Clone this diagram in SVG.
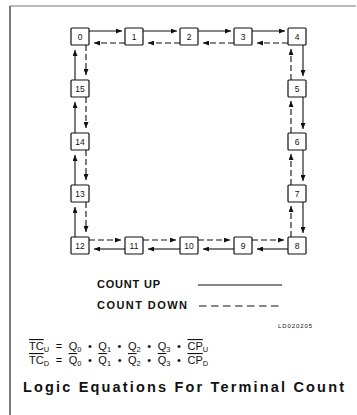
<svg xmlns="http://www.w3.org/2000/svg" width="357" height="415" viewBox="0 0 357 415">
<style>
.nd{fill:#fff;stroke:#111;stroke-width:1.2}
.lb{font-family:"Liberation Sans",Arial,sans-serif;font-size:8.5px;fill:#111;text-anchor:middle}
.s{stroke:#111;stroke-width:1.1;fill:none}
.d{stroke:#111;stroke-width:1.1;fill:none;stroke-dasharray:6 3}
.t{font-family:"Liberation Sans",Arial,sans-serif;fill:#111}
.sb{font-size:7.5px}
</style>
<defs>
<marker id="ah" markerUnits="userSpaceOnUse" markerWidth="6" markerHeight="5" refX="6" refY="2.5" orient="auto">
<path d="M0,0 L6,2.5 L0,5 z" fill="#111"/>
</marker>
</defs>
<rect width="357" height="415" fill="#fff"/>
<g id="frame">
<line x1="10" y1="6" x2="356" y2="6" stroke="#777" stroke-width="1"/>
<line x1="10" y1="6" x2="10" y2="415" stroke="#333" stroke-width="1.3"/>
</g>
<g id="connectors">
<g class="s" marker-end="url(#ah)">
<line x1="89" y1="31" x2="122" y2="31"/>
<line x1="143" y1="31" x2="177" y2="31"/>
<line x1="198" y1="31" x2="231" y2="31"/>
<line x1="252" y1="31" x2="285" y2="31"/>
<line x1="303" y1="45" x2="303" y2="76"/>
<line x1="303" y1="97" x2="303" y2="129"/>
<line x1="303" y1="150" x2="303" y2="181"/>
<line x1="303" y1="202" x2="303" y2="233"/>
<line x1="288" y1="249" x2="257" y2="249"/>
<line x1="234" y1="249" x2="203" y2="249"/>
<line x1="180" y1="249" x2="148" y2="249"/>
<line x1="125" y1="249" x2="94" y2="249"/>
<line x1="75" y1="237" x2="75" y2="207"/>
<line x1="75" y1="185" x2="75" y2="155"/>
<line x1="75" y1="133" x2="75" y2="102"/>
<line x1="75" y1="80" x2="75" y2="50"/>
</g>
<g class="d" marker-end="url(#ah)">
<line x1="125" y1="43" x2="94" y2="43"/>
<line x1="180" y1="43" x2="148" y2="43"/>
<line x1="234" y1="43" x2="203" y2="43"/>
<line x1="288" y1="43" x2="257" y2="43"/>
<line x1="291" y1="80" x2="291" y2="49"/>
<line x1="291" y1="133" x2="291" y2="101"/>
<line x1="291" y1="185" x2="291" y2="154"/>
<line x1="291" y1="237" x2="291" y2="206"/>
<line x1="89" y1="240" x2="121" y2="240"/>
<line x1="143" y1="240" x2="176" y2="240"/>
<line x1="198" y1="240" x2="230" y2="240"/>
<line x1="252" y1="240" x2="284" y2="240"/>
<line x1="86" y1="45" x2="86" y2="75"/>
<line x1="86" y1="97" x2="86" y2="128"/>
<line x1="86" y1="150" x2="86" y2="180"/>
<line x1="86" y1="202" x2="86" y2="232"/>
</g>
</g>
<g id="n0"><rect class="nd" x="71" y="28" width="18" height="17" rx="1"/><text class="lb" x="80" y="39.5">0</text></g>
<g id="n1"><rect class="nd" x="125" y="28" width="18" height="17" rx="1"/><text class="lb" x="134" y="39.5">1</text></g>
<g id="n2"><rect class="nd" x="180" y="28" width="18" height="17" rx="1"/><text class="lb" x="189" y="39.5">2</text></g>
<g id="n3"><rect class="nd" x="234" y="28" width="18" height="17" rx="1"/><text class="lb" x="243" y="39.5">3</text></g>
<g id="n4"><rect class="nd" x="288" y="28" width="18" height="17" rx="1"/><text class="lb" x="297" y="39.5">4</text></g>
<g id="n5"><rect class="nd" x="288" y="80" width="18" height="17" rx="1"/><text class="lb" x="297" y="91.5">5</text></g>
<g id="n6"><rect class="nd" x="288" y="133" width="18" height="17" rx="1"/><text class="lb" x="297" y="144.5">6</text></g>
<g id="n7"><rect class="nd" x="288" y="185" width="18" height="17" rx="1"/><text class="lb" x="297" y="196.5">7</text></g>
<g id="n8"><rect class="nd" x="288" y="237" width="18" height="17" rx="1"/><text class="lb" x="297" y="248.5">8</text></g>
<g id="n9"><rect class="nd" x="234" y="237" width="18" height="17" rx="1"/><text class="lb" x="243" y="248.5">9</text></g>
<g id="n10"><rect class="nd" x="180" y="237" width="18" height="17" rx="1"/><text class="lb" x="189" y="248.5">10</text></g>
<g id="n11"><rect class="nd" x="125" y="237" width="18" height="17" rx="1"/><text class="lb" x="134" y="248.5">11</text></g>
<g id="n12"><rect class="nd" x="71" y="237" width="18" height="17" rx="1"/><text class="lb" x="80" y="248.5">12</text></g>
<g id="n13"><rect class="nd" x="71" y="185" width="18" height="17" rx="1"/><text class="lb" x="80" y="196.5">13</text></g>
<g id="n14"><rect class="nd" x="71" y="133" width="18" height="17" rx="1"/><text class="lb" x="80" y="144.5">14</text></g>
<g id="n15"><rect class="nd" x="71" y="80" width="18" height="17" rx="1"/><text class="lb" x="80" y="91.5">15</text></g>
<g id="legend">
<text class="t" x="97" y="288" font-size="11" font-weight="bold" textLength="63" lengthAdjust="spacing">COUNT UP</text>
<text class="t" x="97" y="309" font-size="11" font-weight="bold" textLength="90" lengthAdjust="spacing">COUNT DOWN</text>
<line x1="198" y1="285" x2="282" y2="285" stroke="#111" stroke-width="1.2"/>
<line x1="199" y1="306" x2="282" y2="306" stroke="#111" stroke-width="1.2" stroke-dasharray="7.5 4.5"/>
<text class="t" x="278" y="328" font-size="6" fill="#555" textLength="34" lengthAdjust="spacing">LD020205</text>
</g>
<g id="equations" class="t" font-size="11" word-spacing="3.5">
<text x="29" y="350"><tspan text-decoration="overline">TC</tspan><tspan class="sb" dy="1.5">U</tspan><tspan dy="-1.5"> = Q</tspan><tspan class="sb" dy="1.5">0</tspan><tspan dy="-1.5"> • Q</tspan><tspan class="sb" dy="1.5">1</tspan><tspan dy="-1.5"> • Q</tspan><tspan class="sb" dy="1.5">2</tspan><tspan dy="-1.5"> • Q</tspan><tspan class="sb" dy="1.5">3</tspan><tspan dy="-1.5"> • </tspan><tspan text-decoration="overline">CP</tspan><tspan class="sb" dy="1.5">U</tspan></text>
<text x="29" y="364"><tspan text-decoration="overline">TC</tspan><tspan class="sb" dy="1.5">D</tspan><tspan dy="-1.5"> = </tspan><tspan text-decoration="overline">Q</tspan><tspan class="sb" dy="1.5">0</tspan><tspan dy="-1.5"> • </tspan><tspan text-decoration="overline">Q</tspan><tspan class="sb" dy="1.5">1</tspan><tspan dy="-1.5"> • </tspan><tspan text-decoration="overline">Q</tspan><tspan class="sb" dy="1.5">2</tspan><tspan dy="-1.5"> • </tspan><tspan text-decoration="overline">Q</tspan><tspan class="sb" dy="1.5">3</tspan><tspan dy="-1.5"> • </tspan><tspan text-decoration="overline">CP</tspan><tspan class="sb" dy="1.5">D</tspan></text>
</g>
<text class="t" x="23" y="392" font-size="14.5" font-weight="bold" textLength="321" lengthAdjust="spacing">Logic Equations For Terminal Count</text>
</svg>
